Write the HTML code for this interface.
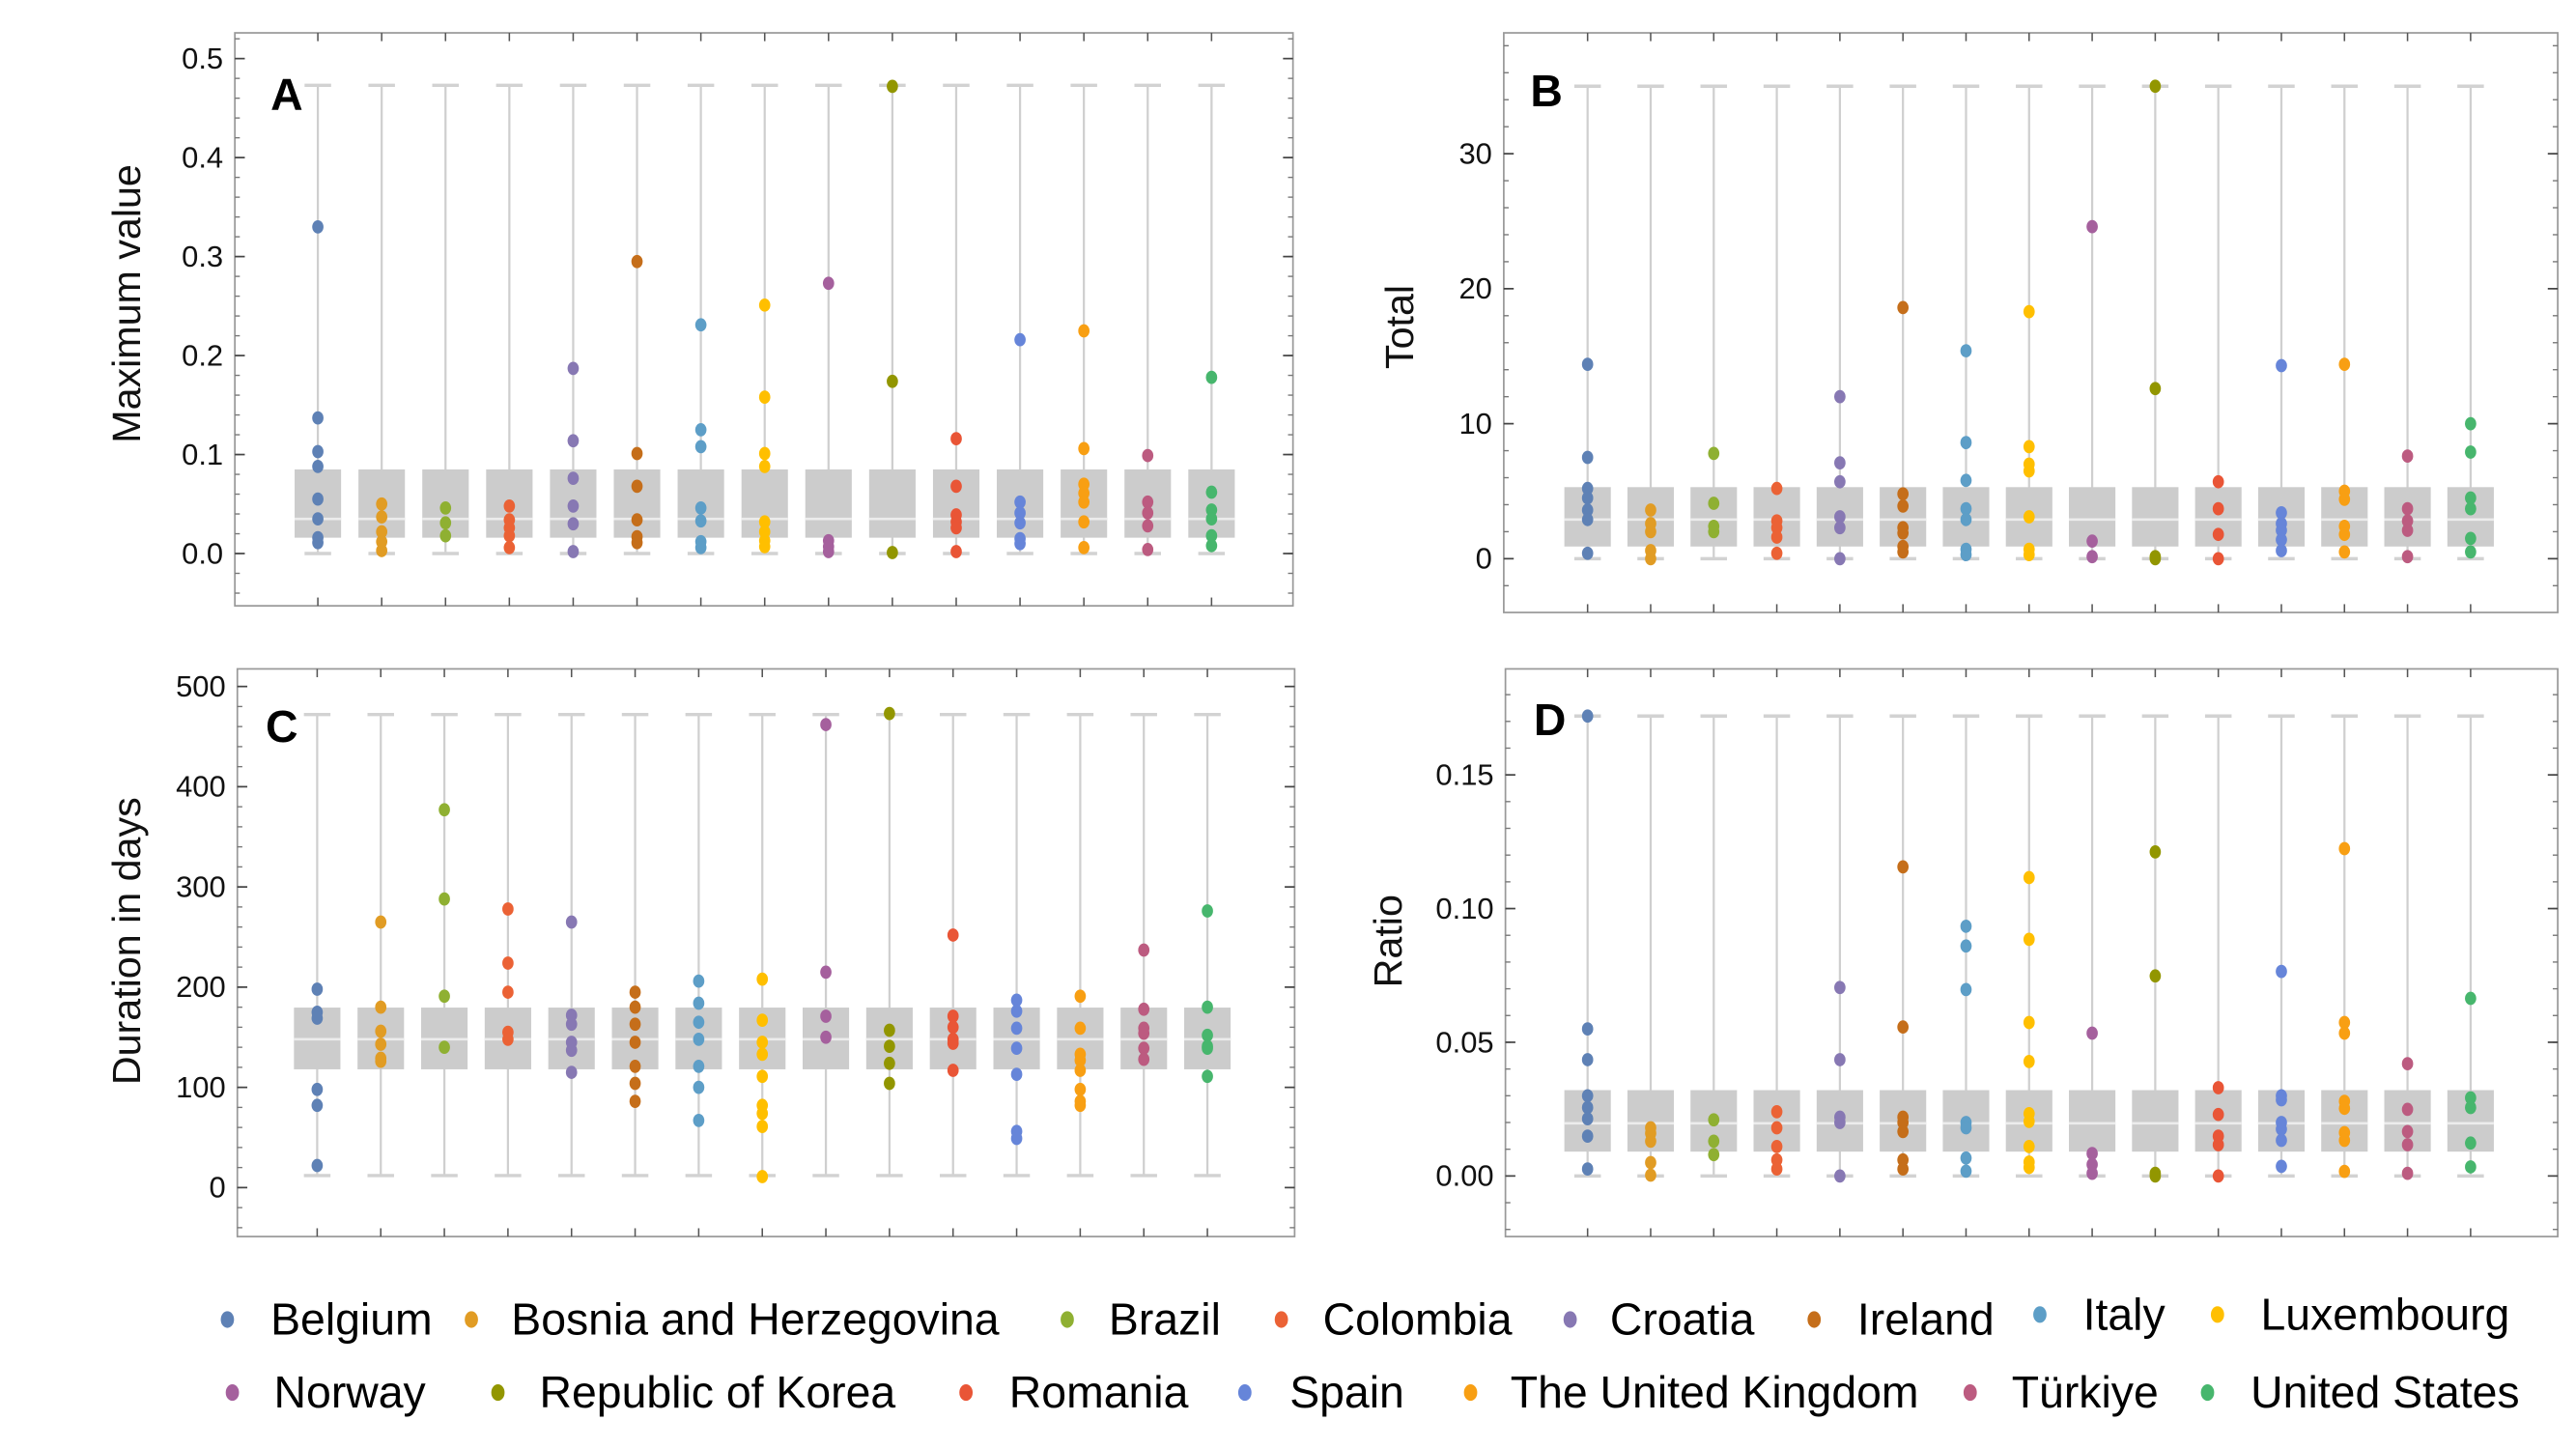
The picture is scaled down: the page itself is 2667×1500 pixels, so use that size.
<!DOCTYPE html>
<html><head><meta charset="utf-8">
<style>
html,body{margin:0;padding:0;background:#fff;width:2667px;height:1500px;overflow:hidden}
svg{display:block}
text{font-family:"Liberation Sans",sans-serif}
</style></head>
<body>
<svg id="fig" width="2667" height="1500" viewBox="0 0 1552 873" preserveAspectRatio="none" xmlns="http://www.w3.org/2000/svg"></svg>
<script>
const categories = ["Belgium","Bosnia and Herzegovina","Brazil","Colombia","Croatia","Ireland","Italy","Luxembourg","Norway","Republic of Korea","Romania","Spain","The United Kingdom","Türkiye","United States"];
const colors = ["#5E81B5","#E19C24","#8FB032","#EB6235","#8778B3","#C56E1A","#5D9EC7","#FFBF00","#A5609D","#929600","#E95536","#6685D9","#F89F13","#BC5B80","#47B66D"];

const valuesA = [[0.330,0.137,0.103,0.088,0.055,0.035,0.016,0.011],[0.050,0.037,0.022,0.012,0.003],[0.046,0.031,0.018],[0.048,0.034,0.026,0.018,0.006],[0.187,0.114,0.076,0.048,0.030,0.002],[0.295,0.101,0.068,0.034,0.017,0.011],[0.231,0.125,0.108,0.046,0.033,0.012,0.006],[0.251,0.158,0.101,0.088,0.032,0.022,0.013,0.007],[0.273,0.013,0.007,0.002],[0.472,0.174,0.001],[0.116,0.068,0.039,0.032,0.026,0.002],[0.216,0.052,0.041,0.031,0.015,0.010],[0.225,0.106,0.070,0.061,0.052,0.032,0.006],[0.099,0.052,0.041,0.028,0.004],[0.178,0.062,0.044,0.035,0.018,0.008]];
const boxA = [0.016,0.035,0.085]; const whiskA = [0,0.473];
const ticksA = [0,0.1,0.2,0.3,0.4,0.5]; const tickLabelsA = ["0.0","0.1","0.2","0.3","0.4","0.5"];

const valuesB = [[14.4,7.5,5.2,4.5,3.6,2.9,0.4],[3.6,2.6,2.0,0.6,0],[7.8,4.1,2.4,2.0],[5.2,2.8,2.3,1.6,0.4],[12.0,7.1,5.7,3.1,2.3,0],[18.6,4.8,3.9,2.3,1.9,0.9,0.5],[15.4,8.6,5.8,3.7,2.9,0.7,0.3],[18.3,8.3,7.0,6.5,3.1,0.7,0.3],[24.6,1.3,0.15],[35.0,12.6,0.15,0],[5.7,3.7,1.8,0],[14.3,3.4,2.6,2.1,1.4,0.6],[14.4,5.0,4.4,2.4,1.8,0.5],[7.6,3.7,2.8,2.1,0.15],[10.0,7.9,4.5,3.7,1.5,0.5]];
const boxB = [0.9,2.9,5.3]; const whiskB = [0,35];
const ticksB = [0,10,20,30]; const tickLabelsB = ["0","10","20","30"];

const valuesC = [[198,175,169,98,82,22],[265,180,156,143,129,126],[377,288,191,140],[278,224,195,155,148],[265,172,163,145,137,115],[195,180,163,145,121,104,86],[206,184,165,148,121,100,67],[208,167,145,133,111,82,74,61,11],[462,215,171,150],[473,157,141,124,104],[252,171,160,148,144,117],[187,176,159,139,113,56,49],[191,159,133,127,117,98,86,82],[237,178,159,154,139,128],[276,180,152,141,139,111]];
const boxC = [118,148,179.6]; const whiskC = [12,472];
const ticksC = [0,100,200,300,400,500]; const tickLabelsC = ["0","100","200","300","400","500"];

const valuesD = [[0.172,0.055,0.0435,0.030,0.0256,0.0214,0.0149,0.0026],[0.018,0.016,0.013,0.005,0.0003],[0.021,0.013,0.008],[0.024,0.018,0.011,0.006,0.0026],[0.0705,0.0435,0.022,0.020,0],[0.1156,0.0557,0.022,0.020,0.0166,0.006,0.0026],[0.0934,0.086,0.0697,0.020,0.018,0.0067,0.0018],[0.1116,0.0885,0.0574,0.0428,0.0233,0.0204,0.011,0.0052,0.0032],[0.0534,0.0084,0.0043,0.001],[0.1212,0.0748,0.001,0],[0.033,0.023,0.0149,0.0117,0],[0.0765,0.030,0.0285,0.020,0.0175,0.0133,0.0036],[0.1224,0.0574,0.0534,0.0279,0.0253,0.0162,0.0133,0.0017],[0.042,0.0249,0.0166,0.0117,0.001],[0.0664,0.0292,0.0256,0.0123,0.0034]];
const boxD = [0.0091,0.0197,0.0321]; const whiskD = [0,0.172];
const ticksD = [0,0.05,0.10,0.15]; const tickLabelsD = ["0.00","0.05","0.10","0.15"];

const NS = "http://www.w3.org/2000/svg";
const svg = document.getElementById('fig');
function mk(tag, attrs, parent){const e=document.createElementNS(NS,tag);for(const k in attrs)e.setAttribute(k,attrs[k]);(parent||svg).appendChild(e);return e;}

const panels = [
 {id:"a",letter:"A",title:"Maximum value",vals:valuesA,box:boxA,wh:whiskA,ticks:ticksA,tl:tickLabelsA,minor:0.02,
  fx0:141.5,fy0:19.8,fx1:779,fy1:365,y0:333.5,ppu:596.4,cx0:191.5,cdx:38.46,tx:78,ty:183,lx:163,ly:66},
 {id:"b",letter:"B",title:"Total",vals:valuesB,box:boxB,wh:whiskB,ticks:ticksB,tl:tickLabelsB,minor:2,
  fx0:906,fy0:19.8,fx1:1541,fy1:369,y0:336.6,ppu:8.133,cx0:956.5,cdx:38.0,tx:845,ty:197,lx:922,ly:64},
 {id:"c",letter:"C",title:"Duration in days",vals:valuesC,box:boxC,wh:whiskC,ticks:ticksC,tl:tickLabelsC,minor:20,
  fx0:143,fy0:403,fx1:780,fy1:745,y0:715.5,ppu:0.6038,cx0:191.1,cdx:38.31,tx:78,ty:567,lx:160,ly:447},
 {id:"d",letter:"D",title:"Ratio",vals:valuesD,box:boxD,wh:whiskD,ticks:ticksD,tl:tickLabelsD,minor:0.01,
  fx0:907,fy0:403,fx1:1541,fy1:745,y0:708.5,ppu:1611,cx0:956.5,cdx:38.0,tx:838,ty:567,lx:924,ly:443}
];

panels.forEach(p=>{
  const g = mk('g',{});
  
  
  const yS = v => p.y0 - v*p.ppu;
  const xS = i => p.cx0 + i*p.cdx;
  const fr = mk('rect',{x:p.fx0,y:p.fy0,width:p.fx1-p.fx0,height:p.fy1-p.fy0,fill:'none',stroke:'#999',"stroke-width":1},g);
  
  
  const vmin=(p.y0-p.fy1)/p.ppu, vmax=(p.y0-p.fy0)/p.ppu;
  const nMin=Math.ceil(vmin/p.minor), nMax=Math.floor(vmax/p.minor);
  for(let k=nMin;k<=nMax;k++){
    const y=yS(k*p.minor);
    mk('line',{x1:p.fx0,x2:p.fx0+3,y1:y,y2:y,stroke:'#777','stroke-width':0.8},g);
    mk('line',{x1:p.fx1,x2:p.fx1-3,y1:y,y2:y,stroke:'#777','stroke-width':0.8},g);
  }
  p.ticks.forEach((t,i)=>{
    const y=yS(t);
    mk('line',{x1:p.fx0,x2:p.fx0+6,y1:y,y2:y,stroke:'#444','stroke-width':1},g);
    mk('line',{x1:p.fx1,x2:p.fx1-6,y1:y,y2:y,stroke:'#444','stroke-width':1},g);
    const tx=mk('text',{x:p.fx0-7,y:y+6,'text-anchor':'end','font-size':18,fill:'#111'},g);
    tx.textContent=p.tl[i];
    
    
  });
  const tt=mk('text',{x:p.tx,y:p.ty,'text-anchor':'middle','font-size':24,fill:'#111',transform:`rotate(-90 ${p.tx} ${p.ty})`,'dominant-baseline':'middle'},g);
  tt.textContent=p.title;
  
  
  const lt=mk('text',{x:p.lx,y:p.ly,'font-size':27,'font-weight':'bold',fill:'#000'},g);
  lt.textContent=p.letter;
  
  
  categories.forEach((c,i)=>{
    const x=xS(i);
    mk('line',{x1:x,x2:x,y1:p.fy0,y2:p.fy0+5,stroke:'#555','stroke-width':0.9},g);
    mk('line',{x1:x,x2:x,y1:p.fy1,y2:p.fy1-5,stroke:'#555','stroke-width':0.9},g);
    const bg=mk('g',{},g);
    
    
    mk('line',{x1:x,x2:x,y1:yS(p.wh[1]),y2:yS(p.wh[0]),stroke:'#cfcfcf','stroke-width':1.3},bg);
    mk('line',{x1:x-8,x2:x+8,y1:yS(p.wh[1]),y2:yS(p.wh[1]),stroke:'#d2d2d2','stroke-width':2},bg);
    mk('line',{x1:x-8,x2:x+8,y1:yS(p.wh[0]),y2:yS(p.wh[0]),stroke:'#d2d2d2','stroke-width':2},bg);
    mk('rect',{x:x-14,y:yS(p.box[2]),width:28,height:yS(p.box[0])-yS(p.box[2]),fill:'#cccccc'},bg);
    mk('line',{x1:x-14,x2:x+14,y1:yS(p.box[1]),y2:yS(p.box[1]),stroke:'#ececec','stroke-width':1.5},bg);
    p.vals[i].forEach(v=>{
      const d=mk('ellipse',{cx:x,cy:yS(v),rx:3.4,ry:4,fill:colors[i]},g);
      
      
    });
  });
});

const legendPos = [[137,163,795],[284,308,795],[643,668,795],[772,797,795],[946,970,795],[1093,1119,795],[1229,1255,792],[1336,1362,792],
 [140,165,839],[300,325,839],[582,608,839],[750,777,839],[886,910,839],[1187,1212,839],[1330,1356,839]];
const lg=mk('g',{});


categories.forEach((c,i)=>{
  const [dx,tx,y]=legendPos[i];
  const e=mk('g',{},lg);
  
  
  mk('ellipse',{cx:dx,cy:y,rx:4,ry:5,fill:colors[i]},e);
  const t=mk('text',{x:tx,y:y+9,'font-size':27,fill:'#000'},e);
  t.textContent=c;
});
</script>
</body></html>
